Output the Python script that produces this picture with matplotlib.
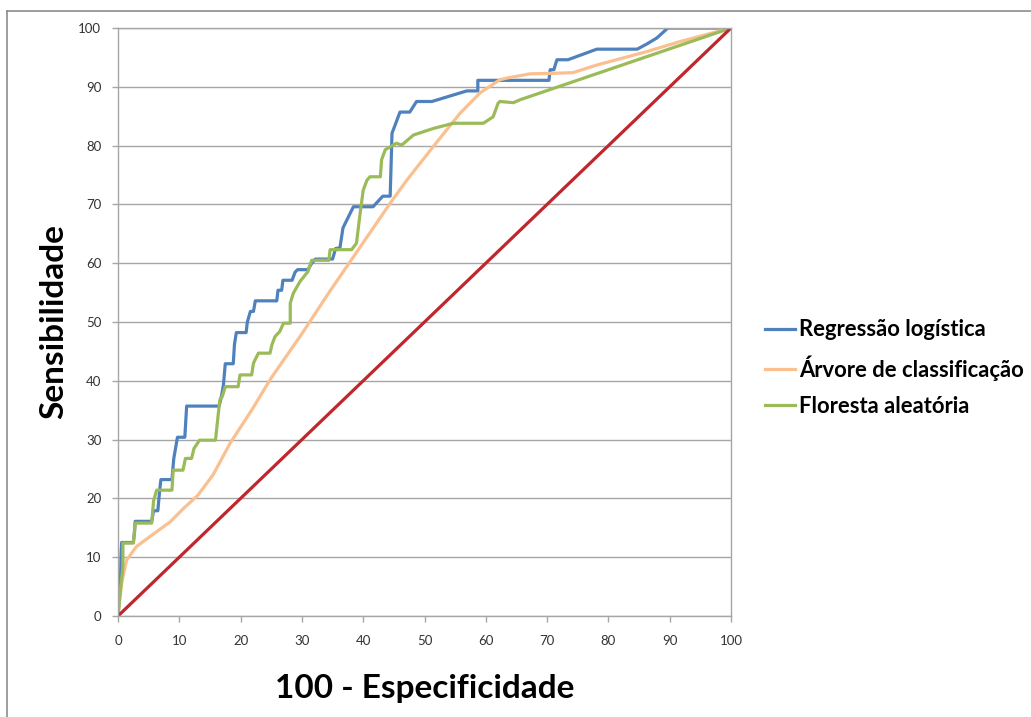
import matplotlib
matplotlib.use("Agg")
import matplotlib.pyplot as plt
from matplotlib.lines import Line2D

# ── data ───────────────────────────────────────────────────────────────────
reg_x = [0, 0.4, 0.5, 0.6, 2.5, 2.7, 2.8, 5.5, 5.8, 6.5, 6.8, 7.0, 8.8, 9.1, 9.4,
         9.7, 10.9, 11.2, 16.5, 16.9, 17.2, 17.5, 18.8, 19.0, 19.3, 20.9, 21.1,
         21.6, 22.1, 22.4, 25.9, 26.1, 26.7, 26.9, 28.4, 28.9, 29.3, 31.0, 31.6,
         32.2, 35.0, 35.5, 36.2, 36.7, 38.4, 41.6, 43.2, 44.4, 44.7, 46.0, 47.6,
         48.7, 51.2, 56.9, 58.7, 58.7, 70.3, 70.5, 71.1, 71.6, 73.4, 78.1, 84.7,
         86.3, 87.9, 89.7, 100]
reg_y = [0, 5.5, 10.7, 12.5, 12.5, 14.3, 16.1, 16.1, 17.9, 17.9, 21.4, 23.2, 23.2,
         26.8, 28.6, 30.4, 30.4, 35.7, 35.7, 37.5, 39.3, 42.9, 42.9, 46.2, 48.2,
         48.2, 50.0, 51.8, 51.8, 53.6, 53.6, 55.4, 55.4, 57.1, 57.1, 58.5, 58.9,
         58.9, 60.0, 60.7, 60.7, 62.5, 62.6, 66.0, 69.6, 69.6, 71.4, 71.4, 82.1,
         85.7, 85.7, 87.5, 87.5, 89.3, 89.3, 91.1, 91.1, 92.9, 92.9, 94.6, 94.6,
         96.4, 96.4, 97.3, 98.3, 100, 100]

arv_x = [0, 0.3, 0.6, 1.4, 3.0, 5.2, 8.5, 10.7, 13.0, 15.5, 18.3, 21.8, 25.0, 30.0,
         34.6, 40.0, 44.4, 47.1, 51.4, 55.8, 59.1, 62.3, 63.5, 67.2, 71.0, 74.2,
         78.1, 86.3, 91.7, 100]
arv_y = [0, 3.0, 5.6, 9.5, 11.8, 13.5, 16.0, 18.3, 20.5, 24.0, 29.4, 35.0, 40.5,
         48.0, 55.3, 63.5, 70.2, 74.1, 79.8, 85.5, 89.0, 91.2, 91.5, 92.2, 92.3,
         92.4, 93.7, 96.0, 97.7, 100]

flo_x = [0, 0.3, 0.8, 0.8, 2.5, 2.8, 5.5, 5.8, 6.3, 8.8, 9.0, 10.6, 11.0, 12.0,
         12.4, 13.3, 15.9, 16.2, 16.6, 17.0, 17.5, 19.6, 19.9, 21.8, 22.1, 22.9,
         24.8, 25.1, 25.6, 26.4, 27.0, 28.1, 28.1, 28.6, 29.7, 31.0, 31.6, 34.4,
         34.6, 38.1, 38.9, 39.5, 40.0, 40.6, 41.1, 42.8, 43.0, 43.6, 45.4, 46.3,
         48.2, 51.4, 54.7, 59.6, 61.2, 62.0, 62.3, 64.5, 65.6, 100]
flo_y = [0, 3.3, 8.4, 12.4, 12.4, 15.8, 15.8, 19.6, 21.4, 21.4, 24.8, 24.8, 26.8,
         26.8, 28.5, 29.9, 29.9, 32.8, 36.7, 37.3, 39.0, 39.0, 41.0, 41.0, 43.0,
         44.7, 44.7, 46.1, 47.5, 48.4, 49.8, 49.8, 53.2, 54.9, 56.9, 58.6, 60.5,
         60.5, 62.3, 62.3, 63.4, 68.5, 72.4, 74.1, 74.7, 74.7, 77.6, 79.3, 80.4,
         80.1, 81.8, 82.9, 83.8, 83.8, 84.9, 87.2, 87.5, 87.3, 87.8, 100]

ref_x = [0, 100]
ref_y = [0, 100]

labels = ["Regressão logística", "Árvore de classificação", "Floresta aleatória"]

# ── figure ────────────────────────────────────────────────────────────────
plt.rcParams["font.family"] = ["Lato", "DejaVu Sans"]

W, H = 1031, 717
fig = plt.figure(figsize=(W / 100, H / 100), dpi=100)
ax = fig.add_axes([118 / W, 1 - 616 / H, (731 - 118) / W, (616 - 28) / H])

lw = 2.3
l1, = ax.plot(reg_x, reg_y, color="#4F81BD", lw=lw, solid_joinstyle="round")
l2, = ax.plot(arv_x, arv_y, color="#FAC090", lw=lw, solid_joinstyle="round")
l3, = ax.plot(flo_x, flo_y, color="#9BBB59", lw=lw, solid_joinstyle="round")
ax.plot(ref_x, ref_y, color="#C0272D", lw=lw)

ax.set_xlim(0, 100)
ax.set_ylim(0, 100)
ax.set_xticks(range(0, 101, 10))
ax.set_yticks(range(0, 101, 10))
ax.yaxis.grid(True, color="#A6A6A6", lw=1)
ax.set_axisbelow(True)
for s in ax.spines.values():
    s.set_color("#A6A6A6")
    s.set_linewidth(1)
ax.tick_params(axis="both", colors="#A6A6A6", labelcolor="#333333",
               labelsize=9.5, length=4, width=1, direction="out")
ax.tick_params(axis="x", pad=10)
ax.tick_params(axis="y", pad=8)

ax.set_xlabel("100 - Especificidade", fontsize=24, fontweight="bold", labelpad=19)
ax.set_ylabel("Sensibilidade", fontsize=24, fontweight="bold", labelpad=7)

fig.legend([l1, l2, l3], labels, loc="center left",
           bbox_to_anchor=(765 / W, 1 - 368 / H), frameon=False, borderpad=0,
           borderaxespad=0, prop={"weight": "bold", "size": 15.8},
           handlelength=1.36, handletextpad=0.18, labelspacing=0.68)

# outer chart-area border (runs off the right and bottom edges)
fig.add_artist(Line2D([7 / W, 7 / W], [0, 1 - 11 / H], transform=fig.transFigure,
                      color="#8C8C8C", lw=1.2))
fig.add_artist(Line2D([7 / W, 1], [1 - 11 / H, 1 - 11 / H], transform=fig.transFigure,
                      color="#8C8C8C", lw=1.2))

fig.savefig("out.png", dpi=100)
